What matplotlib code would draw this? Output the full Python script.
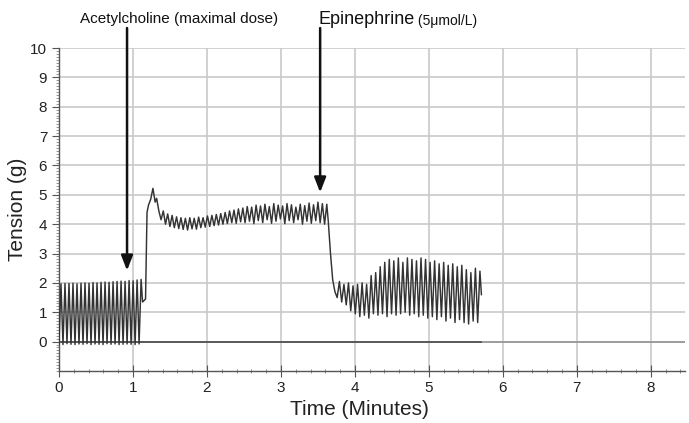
import numpy as np
import matplotlib
matplotlib.use("Agg")
import matplotlib.pyplot as plt
from matplotlib.ticker import MultipleLocator

plt.rcParams['font.family'] = ['Liberation Sans', 'DejaVu Sans']

# ---------------- data ----------------
# Segment 1: baseline spontaneous contractions (minutes 0 -> 1.11)
seg1_span = (0.0, 1.11)
seg1_troughs = [-0.08, -0.10, -0.07, -0.09, -0.10, -0.08, -0.09, -0.07, -0.10, -0.08,
                -0.09, -0.10, -0.07, -0.09, -0.08, -0.10, -0.09, -0.08, -0.09, -0.10,
                -0.08]
seg1_peaks = [1.97, 1.98, 1.98, 1.99, 1.97, 1.99, 2.00, 1.99, 2.01, 2.00,
              2.02, 2.03, 2.02, 2.04, 2.05, 2.06, 2.05, 2.08, 2.07, 2.10,
              2.12]

# Transition after acetylcholine
trans1_t = [1.13, 1.17, 1.19, 1.21, 1.24, 1.27, 1.30, 1.32, 1.35]
trans1_v = [1.35, 1.45, 4.40, 4.65, 4.85, 5.22, 4.75, 4.88, 4.45]

# Segment 2: sustained contraction (minutes 1.38 -> 3.62)
seg2_span = (1.38, 3.62)
seg2_troughs = [4.15, 4.00, 3.92, 3.88, 3.85, 3.82, 3.80, 3.84, 3.83, 3.88,
                3.90, 3.92, 3.95, 3.97, 4.00, 4.02, 4.05, 4.03, 4.08, 4.05,
                4.10, 4.02, 4.12, 4.05, 4.15, 4.03, 4.10, 4.18, 4.02, 4.12,
                4.05, 4.15, 4.00, 4.10, 4.03, 4.12, 4.05, 4.00]
seg2_peaks = [4.45, 4.35, 4.30, 4.25, 4.22, 4.20, 4.22, 4.20, 4.24, 4.22,
              4.28, 4.30, 4.33, 4.36, 4.40, 4.45, 4.48, 4.52, 4.55, 4.60,
              4.58, 4.65, 4.62, 4.68, 4.60, 4.70, 4.65, 4.62, 4.70, 4.66,
              4.58, 4.68, 4.63, 4.72, 4.66, 4.75, 4.70, 4.68]

# Transition after epinephrine
trans2_t = [3.64, 3.67, 3.70, 3.73]
trans2_v = [4.10, 3.00, 2.10, 1.70]

# Segment 3: relaxation with renewed contractions (minutes 3.76 -> 5.69)
seg3_span = (3.76, 5.69)
seg3_troughs = [1.50, 1.35, 1.25, 1.05, 0.95, 0.85, 0.90, 0.80, 0.95, 0.90,
                0.95, 0.85, 0.95, 0.90, 0.95, 1.00, 0.90, 0.95, 0.85, 0.90,
                0.80, 0.85, 0.75, 0.85, 0.70, 0.80, 0.65, 0.75, 0.65, 0.60,
                0.70, 0.65]
seg3_peaks = [2.05, 1.95, 2.00, 1.90, 1.95, 2.00, 1.95, 2.25, 2.35, 2.55,
              2.70, 2.80, 2.75, 2.85, 2.70, 2.85, 2.80, 2.75, 2.85, 2.80,
              2.70, 2.75, 2.65, 2.70, 2.60, 2.65, 2.55, 2.60, 2.45, 2.35,
              2.50, 2.40]
end_t, end_v = [5.71], [1.60]

baseline_end = 5.70  # recording baseline drawn darker up to here

# Annotations
ach_label = "Acetylcholine (maximal dose)"
ach_time, ach_tip = 0.92, 2.42
epi_label, epi_dose = "Epinephrine", " (5\u03bcmol/L)"
epi_time, epi_tip = 3.53, 5.08

x_ticks = [0, 1, 2, 3, 4, 5, 6, 7, 8]
y_ticks = [0, 1, 2, 3, 4, 5, 6, 7, 8, 9, 10]
x_label = "Time (Minutes)"
y_label = "Tension (g)"


def cycles(span, troughs, peaks):
    vals = []
    for tr, pk in zip(troughs, peaks):
        vals += [tr, pk]
    return list(np.linspace(span[0], span[1], len(vals))), vals


t1, v1 = cycles(seg1_span, seg1_troughs, seg1_peaks)
t2, v2 = cycles(seg2_span, seg2_troughs, seg2_peaks)
t3, v3 = cycles(seg3_span, seg3_troughs, seg3_peaks)
t_all = t1 + trans1_t + t2 + trans2_t + t3 + end_t
v_all = v1 + trans1_v + v2 + trans2_v + v3 + end_v

# ---------------- figure ----------------
fig = plt.figure(figsize=(6.89, 4.23), dpi=100)
ax = fig.add_axes([0.0856, 0.1230, 0.9084, 0.7635])

ax.set_xlim(0, 8.46)
ax.set_ylim(-1.0, 10.0)

ax.set_xticks(x_ticks)
ax.set_yticks(y_ticks)
ax.xaxis.set_minor_locator(MultipleLocator(0.2))
ax.yaxis.set_minor_locator(MultipleLocator(0.1))
ax.grid(True, which='major', color='#c9c9c9', linewidth=1.2)
ax.set_axisbelow(True)

for s in ['top', 'right']:
    ax.spines[s].set_visible(False)
for s in ['left', 'bottom']:
    ax.spines[s].set_color('#555555')
    ax.spines[s].set_linewidth(1.0)

ax.tick_params(axis='both', which='major', labelsize=11, colors='#555555',
               labelcolor='#222222', length=5, width=0.8)
ax.tick_params(axis='x', which='major', direction='inout', length=8)
ax.tick_params(axis='x', which='minor', direction='inout', length=3, width=0.6, colors='#777777')
ax.tick_params(axis='y', which='minor', direction='out', length=2, width=0.6, colors='#888888')

# baseline
ax.axhline(0, color='#999999', linewidth=1.3, zorder=2)
ax.plot([0, baseline_end], [0, 0], color='#555555', linewidth=1.3, zorder=2)

# trace
ax.plot(t_all, v_all, color='#333333', linewidth=1.05, zorder=3)

ax.set_xlabel(x_label, fontsize=15, color='#222222', labelpad=2)
ax.set_ylabel(y_label, fontsize=15, color='#222222', labelpad=2)
ax.xaxis.set_label_coords((360 - 59) / (685 - 59), -0.09)

# arrows
arrow_kw = dict(arrowstyle='-|>,head_length=0.9,head_width=0.35', color='#111111',
                linewidth=1.8, shrinkA=0, shrinkB=0)
ax.annotate('', xy=(ach_time, ach_tip), xytext=(ach_time, 10.68),
            arrowprops=arrow_kw, annotation_clip=False)
ax.annotate('', xy=(epi_time, epi_tip), xytext=(epi_time, 10.68),
            arrowprops=arrow_kw, annotation_clip=False)

fig.text(80 / 689, 1 - 19 / 423, ach_label, fontsize=11, color='#111111',
         ha='left', va='center')
t_epi = fig.text(318 / 689, 1 - 20 / 423, epi_label, fontsize=13, color='#111111',
                 ha='left', va='center')
fig.canvas.draw()
bb = t_epi.get_window_extent()
fig.text(bb.x1 / fig.bbox.width, 1 - 21 / 423, epi_dose, fontsize=10,
         color='#111111', ha='left', va='center')

fig.savefig('out.png', dpi=100)
